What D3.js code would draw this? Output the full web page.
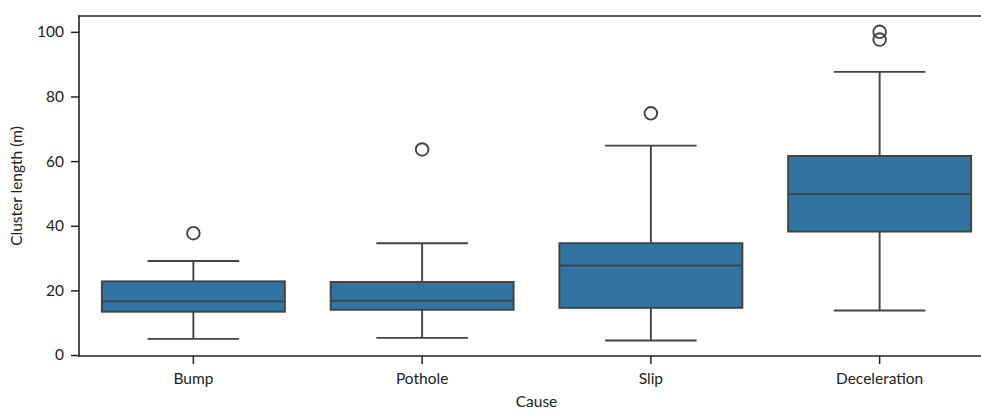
<!DOCTYPE html>
<html>
<head>
<meta charset="utf-8">
<script src="https://cdn.jsdelivr.net/npm/d3@7"></script>
<style>
  body { margin: 0; background: #fff; overflow: hidden; }
  text { font-family: Lato, "Open Sans", sans-serif; fill: #222; }
</style>
</head>
<body>
<div id="chart"></div>
<script>
// values
var causes = ["Bump", "Pothole", "Slip", "Deceleration"];
var q1 = [13.4, 14.0, 14.6, 38.2];
var median = [16.6, 16.8, 27.7, 49.8];
var q3 = [22.8, 22.6, 34.6, 61.6];
var whiskerLow = [5.0, 5.3, 4.5, 13.8];
var whiskerHigh = [29.1, 34.6, 64.8, 87.6];
var outliers = [[37.7], [63.6], [74.8], [100.0, 97.6]];
var yTicks = [0, 20, 40, 60, 80, 100];

// the right part of the axes runs past the picture edge
var margin = { top: 16, right: -13, bottom: 54, left: 79 };
var W = 981, H = 410;
var width = W - margin.left - margin.right;
var height = H - margin.top - margin.bottom;

var boxFill = "#3274a1", lineCol = "#434343";
var fs = "15.5px";

var svg = d3.select("#chart")
  .append("svg")
  .attr("width", W)
  .attr("height", H)
  .append("g")
  .attr("transform", "translate(" + margin.left + "," + margin.top + ")");

var x = d3.scaleBand().domain(causes).range([0, width]).paddingInner(0.2).paddingOuter(0.1);
var y = d3.scaleLinear().domain([-0.3, 104.9]).range([height, 0]);

var data = causes.map(function(c, i) {
  return { cause: c, q1: q1[i], med: median[i], q3: q3[i], lo: whiskerLow[i], hi: whiskerHigh[i], out: outliers[i] };
});

var bw = x.bandwidth();
var g = svg.selectAll(".box").data(data).enter().append("g").attr("class", "box")
  .attr("transform", function(d) { return "translate(" + (x(d.cause) + bw / 2) + ",0)"; });

// whiskers
g.append("line").attr("x1", 0).attr("x2", 0)
  .attr("y1", function(d) { return y(d.q3); }).attr("y2", function(d) { return y(d.hi); })
  .attr("stroke", lineCol).attr("stroke-width", 1.9);
g.append("line").attr("x1", 0).attr("x2", 0)
  .attr("y1", function(d) { return y(d.q1); }).attr("y2", function(d) { return y(d.lo); })
  .attr("stroke", lineCol).attr("stroke-width", 1.9);
g.append("line").attr("x1", -bw / 4).attr("x2", bw / 4)
  .attr("y1", function(d) { return y(d.hi); }).attr("y2", function(d) { return y(d.hi); })
  .attr("stroke", lineCol).attr("stroke-width", 1.9);
g.append("line").attr("x1", -bw / 4).attr("x2", bw / 4)
  .attr("y1", function(d) { return y(d.lo); }).attr("y2", function(d) { return y(d.lo); })
  .attr("stroke", lineCol).attr("stroke-width", 1.9);

// box
g.append("rect").attr("x", -bw / 2).attr("width", bw)
  .attr("y", function(d) { return y(d.q3); })
  .attr("height", function(d) { return y(d.q1) - y(d.q3); })
  .attr("fill", boxFill).attr("stroke", lineCol).attr("stroke-width", 1.9);
g.append("line").attr("x1", -bw / 2).attr("x2", bw / 2)
  .attr("y1", function(d) { return y(d.med); }).attr("y2", function(d) { return y(d.med); })
  .attr("stroke", lineCol).attr("stroke-width", 1.9);

// outliers
g.selectAll(".flier").data(function(d) { return d.out; }).enter().append("circle")
  .attr("class", "flier")
  .attr("cx", 0).attr("cy", function(v) { return y(v); }).attr("r", 6.3)
  .attr("fill", "none").attr("stroke", lineCol).attr("stroke-width", 1.9);

// axes
var xAxis = svg.append("g").attr("transform", "translate(0," + height + ")")
  .call(d3.axisBottom(x).tickSize(8).tickPadding(9));
var yAxis = svg.append("g")
  .call(d3.axisLeft(y).tickValues(yTicks).tickSize(8).tickPadding(7));
[xAxis, yAxis].forEach(function(a) {
  a.selectAll("text").style("font-size", fs).attr("fill", "#222");
  a.selectAll("line").attr("stroke", "#222").attr("stroke-width", 1.5);
  a.select(".domain").remove();
});

// spines (right one is outside the picture)
var spines = [[0, 0, 0, height], [0, 0, width, 0], [0, height, width, height]];
svg.selectAll(".spine").data(spines).enter().append("line").attr("class", "spine")
  .attr("x1", function(s) { return s[0]; }).attr("y1", function(s) { return s[1]; })
  .attr("x2", function(s) { return s[2]; }).attr("y2", function(s) { return s[3]; })
  .attr("stroke", "#222").attr("stroke-width", 1.6).attr("stroke-linecap", "square");

svg.append("text").attr("x", width / 2).attr("y", height + 51)
  .attr("text-anchor", "middle").style("font-size", fs).text("Cause");
svg.append("text").attr("transform", "translate(" + (-57) + "," + (height / 2) + ") rotate(-90)")
  .attr("text-anchor", "middle").style("font-size", fs).text("Cluster length (m)");
</script>
</body>
</html>
